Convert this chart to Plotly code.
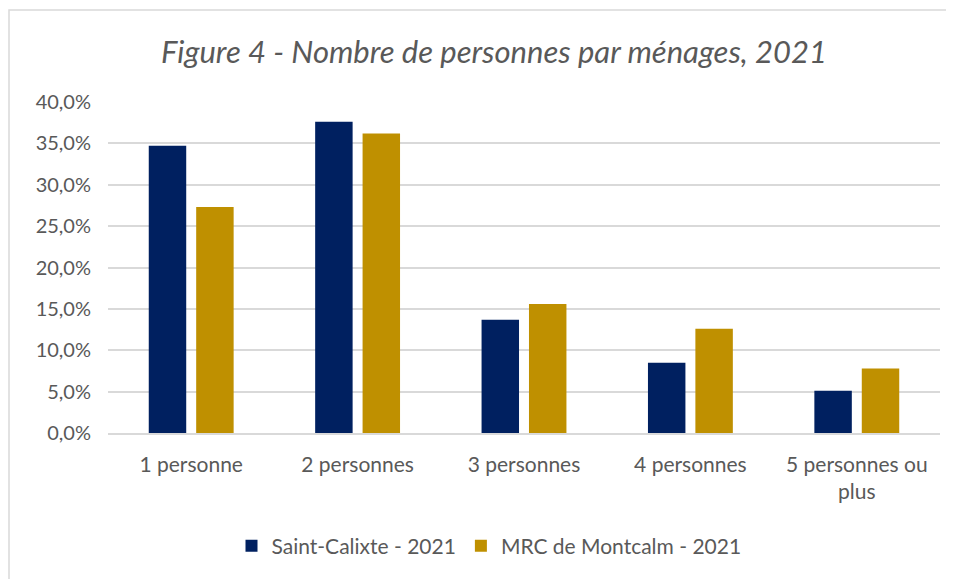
import plotly.graph_objects as go

categories = ["1 personne", "2 personnes", "3 personnes", "4 personnes", "5 personnes ou<br>plus"]
saint_calixte = [0.347, 0.376, 0.137, 0.085, 0.051]
mrc_montcalm = [0.273, 0.362, 0.156, 0.126, 0.078]
tick_vals = [0, 0.05, 0.10, 0.15, 0.20, 0.25, 0.30, 0.35, 0.40]
tick_text = ["0,0%", "5,0%", "10,0%", "15,0%", "20,0%", "25,0%", "30,0%", "35,0%", "40,0%"]

W, H = 954, 579
OFF = 8  # page body margin
L, R, T, B = 100, 22, 94, 154
pw, ph = W - L - R, H - T - B

def px_x(x):
    return (x - OFF - L) / pw

def px_y(y):
    return 1 - (y - OFF - T) / ph

FONT = "Lato, Carlito, Calibri, sans-serif"
GRAY = "#595959"

fig = go.Figure()
fig.add_trace(go.Bar(name="Saint-Calixte - 2021", x=categories, y=saint_calixte,
                     marker=dict(color="#002060", line=dict(width=0))))
fig.add_trace(go.Bar(name="MRC de Montcalm - 2021", x=categories, y=mrc_montcalm,
                     marker=dict(color="#BF9000", line=dict(width=0))))

fig.update_layout(
    width=W, height=H,
    margin=dict(l=L, r=R, t=T, b=B),
    paper_bgcolor="white", plot_bgcolor="white",
    barmode="group", bargap=0.43, bargroupgap=0.21,
    font=dict(family=FONT, color=GRAY, size=20),
    title=dict(text="<i>Figure 4 - Nombre de personnes par ménages, 2021</i>",
               x=(494 - OFF) / W, xanchor="center", y=1 - (52 - OFF) / H, yanchor="middle",
               font=dict(family=FONT, size=31, color=GRAY)),
    xaxis=dict(showgrid=False, showline=True, linecolor="#D9D9D9", linewidth=1.5,
               ticks="", tickfont=dict(size=21, color=GRAY), ticklabelstandoff=12),
    yaxis=dict(range=[0, 0.40], tickvals=tick_vals, ticktext=tick_text,
               showgrid=True, gridcolor="#D9D9D9", gridwidth=1.5, zeroline=False,
               showline=False, ticks="", tickfont=dict(size=20, color=GRAY), ticklabelstandoff=16),
    legend=dict(orientation="h", x=px_x(489), xanchor="center", y=px_y(546), yanchor="middle",
                font=dict(size=21, color=GRAY), itemwidth=30, traceorder="normal"),
    shapes=[dict(type="rect", xref="paper", yref="paper",
                 x0=px_x(9), x1=px_x(975), y0=px_y(600), y1=px_y(10),
                 line=dict(color="#D9D9D9", width=1.5), fillcolor="rgba(0,0,0,0)", layer="below")],
    showlegend=True,
)

fig.write_html("out.html")
